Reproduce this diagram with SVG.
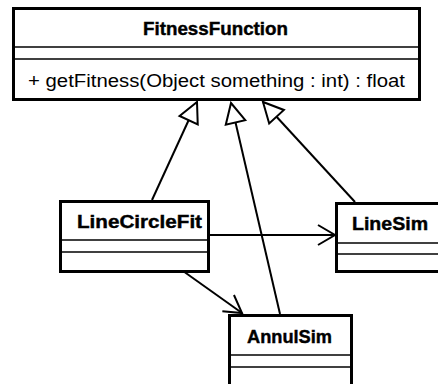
<svg xmlns="http://www.w3.org/2000/svg" width="438" height="384" viewBox="0 0 438 384">
<style>
.box{fill:#fff;stroke:#000;stroke-width:3}
.div{stroke:#000;stroke-width:1.6}
.t{font-family:"Liberation Sans",Arial,sans-serif;font-size:18px;font-weight:bold;fill:#000;stroke:#000;stroke-width:0.4}
.m{font-family:"Liberation Sans",Arial,sans-serif;font-size:17.5px;fill:#000}
.c{stroke:#000;stroke-width:2;fill:none}
</style>
<defs>
<marker id="gen" markerUnits="userSpaceOnUse" viewBox="-24 -13 26 26" refX="0" refY="0" markerWidth="26" markerHeight="26" orient="auto">
<path d="M0,0 L-20,-10 L-20,10 Z" fill="#fff" stroke="#000" stroke-width="2" stroke-linejoin="miter"/>
</marker>
<marker id="open" markerUnits="userSpaceOnUse" viewBox="-20 -12 22 24" refX="0" refY="0" markerWidth="22" markerHeight="24" orient="auto">
<path d="M-17,-10 L0,0 L-17,10" fill="none" stroke="#000" stroke-width="2"/>
</marker>
</defs>
<g id="connectors">
<line class="c" x1="152" y1="200" x2="197" y2="102" marker-end="url(#gen)"/>
<line class="c" x1="280" y1="314" x2="231" y2="103" marker-end="url(#gen)"/>
<line class="c" x1="355" y1="202" x2="263" y2="102" marker-end="url(#gen)"/>
<line class="c" x1="210" y1="235" x2="335" y2="235" marker-end="url(#open)"/>
<line class="c" x1="183" y1="271" x2="242" y2="313" marker-end="url(#open)"/>
</g>
<g id="FitnessFunction">
<rect class="box" x="13.5" y="8.5" width="406" height="91"/>
<line class="div" x1="13.5" y1="47" x2="419.5" y2="47"/>
<line class="div" x1="13.5" y1="59" x2="419.5" y2="59"/>
<text class="t" x="143" y="35" textLength="145" lengthAdjust="spacingAndGlyphs">FitnessFunction</text>
<text class="m" x="28" y="87" textLength="377" lengthAdjust="spacingAndGlyphs">+ getFitness(Object something : int) : float</text>
</g>
<g id="LineCircleFit">
<rect class="box" x="60.5" y="201.5" width="148" height="70"/>
<line class="div" x1="60.5" y1="240" x2="208.5" y2="240"/>
<line class="div" x1="60.5" y1="252" x2="208.5" y2="252"/>
<text class="t" x="77" y="228" textLength="125" lengthAdjust="spacingAndGlyphs">LineCircleFit</text>
</g>
<g id="LineSim">
<rect class="box" x="336.5" y="203.5" width="110" height="68"/>
<line class="div" x1="336.5" y1="243" x2="446" y2="243"/>
<line class="div" x1="336.5" y1="254" x2="446" y2="254"/>
<text class="t" x="352" y="230" textLength="76" lengthAdjust="spacingAndGlyphs">LineSim</text>
</g>
<g id="AnnulSim">
<rect class="box" x="229.5" y="315.5" width="122" height="80"/>
<line class="div" x1="229.5" y1="355" x2="351.5" y2="355"/>
<line class="div" x1="229.5" y1="367" x2="351.5" y2="367"/>
<text class="t" x="247" y="343" textLength="85" lengthAdjust="spacingAndGlyphs">AnnulSim</text>
</g>
</svg>
